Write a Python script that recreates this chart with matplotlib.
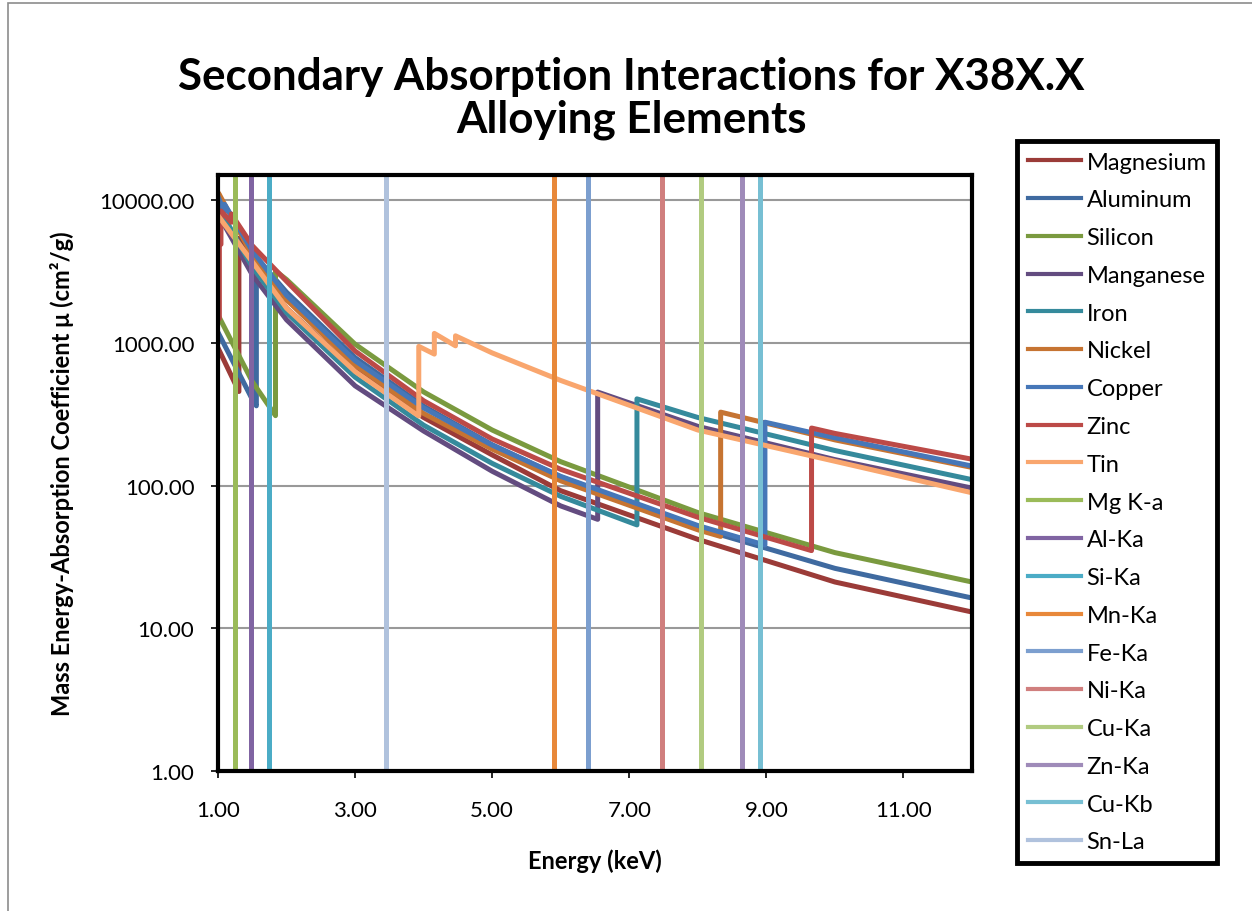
"""
Secondary absorption interactions chart (mass energy-absorption coefficient vs energy).
"""

import matplotlib
matplotlib.use('Agg')
import matplotlib.pyplot as plt
from matplotlib.ticker import FixedLocator, FormatStrFormatter, NullLocator
from matplotlib.patches import Rectangle

plt.rcParams['font.family'] = ['Lato', 'DejaVu Sans']

# element curves: energy (keV) and coefficient (cm2/g), edges are repeated energies
mg_e = [1.0, 1.305, 1.305, 1.5, 2, 3, 4, 5, 6, 8, 10, 12]
mg_v = [922, 456, 5400, 3700, 1750, 640, 300, 164, 92, 42, 21.1, 13.0]

al_e = [1.0, 1.5, 1.5596, 1.5596, 2, 3, 4, 5, 6, 8, 10, 12]
al_v = [1185, 402, 362, 3957, 2263, 788, 360, 193, 115, 50.3, 26.3, 16.3]

si_e = [1.0, 1.5, 1.8389, 1.8389, 2, 3, 4, 5, 6, 8, 10, 12]
si_v = [1570, 535, 309, 3192, 2777, 978, 453, 245, 147, 64.7, 33.9, 21.1]

mn_e = [1.0, 1.5, 2, 3, 4, 5, 6, 6.539, 6.539, 8, 10, 12]
mn_v = [8000, 3000, 1450, 500, 241, 126, 72, 58, 452, 260, 152, 96]

fe_e = [1.0, 1.5, 2, 3, 4, 5, 6, 7.112, 7.112, 8, 10, 12]
fe_v = [9085, 3399, 1626, 575, 265, 143, 84, 53, 405, 300, 176, 110]

ni_e = [1.0, 1.008, 1.008, 1.5, 2, 3, 4, 5, 6, 8, 8.333, 8.333, 10, 12]
ni_v = [9855, 9700, 11200, 4100, 2000, 700, 320, 180, 108, 49, 44, 327, 209, 134]

cu_e = [1.0, 1.096, 1.096, 1.5, 2, 3, 4, 5, 6, 8, 8.979, 8.979, 10, 12]
cu_v = [10570, 8242, 9347, 4418, 2154, 750, 350, 192, 116, 52.5, 38.3, 278, 216, 137]

zn_e = [1.0, 1.02, 1.02, 1.043, 1.043, 1.194, 1.194, 1.5, 2, 3, 4, 5, 6, 8, 9.659, 9.659, 10, 12]
zn_v = [1500, 1480, 5000, 4900, 8400, 7000, 8000, 4800, 2700, 876, 393, 212, 130, 60, 35, 253, 232, 153]

sn_e = [1.0, 1.5, 2, 3, 3.929, 3.929, 4.156, 4.156, 4.465, 4.465, 5, 6, 8, 10, 12]
sn_v = [7800, 3700, 1750, 630, 307, 945, 834, 1165, 953, 1120, 850, 545, 245, 148, 89]

element_names = ['Magnesium', 'Aluminum', 'Silicon', 'Manganese', 'Iron',
                 'Nickel', 'Copper', 'Zinc', 'Tin']
element_data = [(mg_e, mg_v), (al_e, al_v), (si_e, si_v), (mn_e, mn_v), (fe_e, fe_v),
                (ni_e, ni_v), (cu_e, cu_v), (zn_e, zn_v), (sn_e, sn_v)]
element_colors = ['#9B3B38', '#3F6AA0', '#7A9A3F', '#634C80', '#358A9C',
                  '#C67432', '#4677B8', '#BC4A47', '#F9A66E']

# characteristic line energies (keV), drawn as vertical lines
line_names = ['Mg K-a', 'Al-Ka', 'Si-Ka', 'Mn-Ka', 'Fe-Ka', 'Ni-Ka', 'Cu-Ka', 'Zn-Ka', 'Cu-Kb', 'Sn-La']
line_energies = [1.254, 1.487, 1.740, 5.899, 6.404, 7.478, 8.048, 8.639, 8.905, 3.444]
line_span = [1.0, 20000.0]
line_colors = ['#9BBB59', '#8064A2', '#4BACC6', '#E8883A', '#7C9FCF',
               '#D07F7E', '#B1CB80', '#9F8BB9', '#77BFD3', '#B0C2DD']

xticks = [1, 3, 5, 7, 9, 11]
yticks = [1, 10, 100, 1000, 10000]

fig = plt.figure(figsize=(12.52, 9.12), dpi=100)
ax = fig.add_axes([218 / 1252, 1 - 772 / 912, 754 / 1252, 596 / 912])

handles = []
for (e, v), name, c in zip(element_data, element_names, element_colors):
    h, = ax.plot(e, v, color=c, linewidth=3.6, label=name, solid_joinstyle='round')
    handles.append(h)
for name, en, c in zip(line_names, line_energies, line_colors):
    h, = ax.plot([en, en], line_span, color=c, linewidth=3.6, label=name)
    handles.append(h)

ax.set_yscale('log')
ax.set_xlim(1, 12)
ax.set_ylim(1, 15000)
ax.xaxis.set_major_locator(FixedLocator(xticks))
ax.yaxis.set_major_locator(FixedLocator(yticks))
ax.yaxis.set_minor_locator(NullLocator())
ax.xaxis.set_major_formatter(FormatStrFormatter('%.2f'))
ax.yaxis.set_major_formatter(FormatStrFormatter('%.2f'))
ax.tick_params(axis='both', labelsize=16, direction='out', length=5, width=1.2)
ax.tick_params(axis='y', pad=12)
ax.tick_params(axis='x', pad=16)
ax.grid(axis='y', color='#999999', linewidth=1.5)
ax.set_axisbelow(True)
for s in ax.spines.values():
    s.set_linewidth(3)
    s.set_color('black')

ax.set_xlabel('Energy (keV)', fontsize=17, fontweight='bold', labelpad=20)
ax.set_ylabel('Mass Energy-Absorption Coefficient \u03bc (cm\u00b2/g)', fontsize=17,
              fontweight='bold', labelpad=18)

fig.text(0.504, 0.892, 'Secondary Absorption Interactions for X38X.X\nAlloying Elements',
         ha='center', va='center', fontsize=31.6, fontweight='bold', linespacing=1.08)

leg = fig.legend(handles=handles, loc='upper left',
                 bbox_to_anchor=(1017 / 1252, 1 - 142 / 912), fontsize=17,
                 frameon=True, fancybox=False, edgecolor='black', framealpha=1,
                 handlelength=2.25, handletextpad=0.25, labelspacing=0.71,
                 borderpad=0.45, borderaxespad=0)
leg.get_frame().set_linewidth(3.5)
for lh in leg.get_lines():
    lh.set_linewidth(3)

# chart area border
fig.patches.append(Rectangle((8 / 1252, -0.1), 1.2, 1.1 - 4 / 912, transform=fig.transFigure,
                             fill=False, edgecolor='#8C8C8C', linewidth=1.2))

plt.savefig('out.png', dpi=100)
